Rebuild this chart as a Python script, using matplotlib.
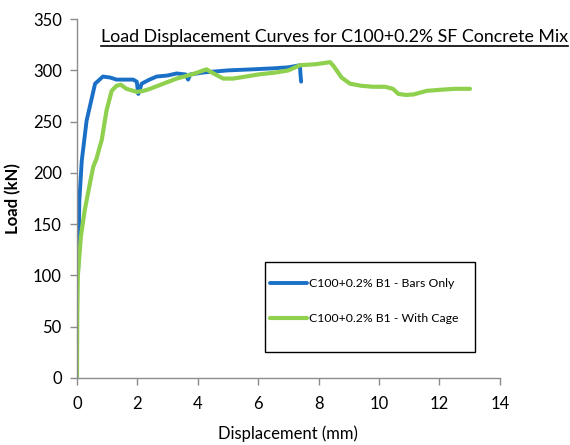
import matplotlib
matplotlib.use("Agg")
import matplotlib.pyplot as plt
from matplotlib.lines import Line2D
from matplotlib.patches import Rectangle
from matplotlib.transforms import IdentityTransform

# values
bars_x = [0, 0.04, 0.08, 0.16, 0.32, 0.6, 0.86, 1.1, 1.31, 1.6, 1.86, 1.98, 2.03, 2.1, 2.14,
          2.4, 2.64, 3.0, 3.3, 3.6, 3.68, 3.75, 4.2, 5.0, 5.8, 6.5, 7.0, 7.38, 7.40, 7.42]
bars_y = [100, 105, 173, 212, 251, 287, 294, 293, 291, 291, 291, 289, 277, 283, 287,
          291, 294, 295, 297, 296, 291, 296, 298, 300, 301, 302, 303, 305, 296, 289]

cage_x = [0, 0.01, 0.03, 0.13, 0.26, 0.43, 0.54, 0.65, 0.76, 0.82,
          0.98, 1.15, 1.31, 1.45, 1.64, 1.98, 2.2, 2.42, 2.86, 3.3,
          3.8, 4.29, 4.46, 4.84, 5.17, 5.6, 6.0, 6.6, 7.0, 7.38,
          7.9, 8.38, 8.5, 8.76, 9.04, 9.4, 9.8, 10.2, 10.46, 10.64,
          10.9, 11.14, 11.58, 12.0, 12.5, 13.01]
cage_y = [0, 60, 100, 138, 164, 190, 206, 214, 226, 232,
          261, 280, 285, 286, 282, 279, 280, 282, 287, 292,
          296, 301, 298, 292, 292, 294, 296, 298, 300, 305,
          306, 308, 304, 293, 287, 285, 284, 284, 282, 277,
          276, 276.5, 280, 281, 282, 282]

series_labels = ["C100+0.2% B1 - Bars Only", "C100+0.2% B1 - With Cage"]
x_ticks = [0, 2, 4, 6, 8, 10, 12, 14]
y_ticks = [0, 50, 100, 150, 200, 250, 300, 350]

plt.rcParams['font.family'] = ['Lato', 'DejaVu Sans']

fig = plt.figure(figsize=(5.7, 4.45), dpi=100)
ax = fig.add_axes([0.135, 0.151, 0.742, 0.806])

ax.plot(bars_x, bars_y, color='#1a6fc6', lw=2.8, label=series_labels[0], solid_capstyle='round')
ax.plot(cage_x, cage_y, color='#8fd14f', lw=3.0, label=series_labels[1], solid_capstyle='round')

ax.set_xlim(0, 14)
ax.set_ylim(0, 350)
ax.set_xticks(x_ticks)
ax.set_yticks(y_ticks)

for side in ['top', 'right']:
    ax.spines[side].set_visible(False)
for side in ['left', 'bottom']:
    ax.spines[side].set_color('#8c8c8c')
    ax.spines[side].set_linewidth(1.0)
ax.tick_params(axis='both', colors='#8c8c8c', length=5, width=1.0, labelcolor='black',
               labelsize=12, direction='out')
ax.tick_params(axis='x', pad=8)
ax.tick_params(axis='y', pad=6)

ax.set_xlabel('Displacement (mm)', fontsize=12, labelpad=10)
ax.set_ylabel('Load (kN)', fontsize=12, fontweight='bold', labelpad=8)

# legend frame drawn separately, Excel-style fixed box
ax.add_patch(Rectangle((0.444, 0.072), 0.497, 0.25, transform=ax.transAxes,
                       facecolor='white', edgecolor='black', lw=1.0, zorder=3))
leg = ax.legend(loc='center left', bbox_to_anchor=(0.457, 0.2135), fontsize=8.8,
                frameon=False, handlelength=3.0, handletextpad=0.15,
                labelspacing=2.0, borderpad=0, borderaxespad=0)
leg.set_zorder(4)

title = fig.text(0.587, 0.905, 'Load Displacement Curves for C100+0.2% SF Concrete Mix',
                 ha='center', va='baseline', fontsize=12.8)

# underline the title
fig.canvas.draw()
bb = title.get_window_extent()
fig.add_artist(Line2D([bb.x0, bb.x1], [bb.y0 - 1, bb.y0 - 1], transform=IdentityTransform(),
                      color='black', lw=1.2))

fig.savefig('out.png', dpi=100)
